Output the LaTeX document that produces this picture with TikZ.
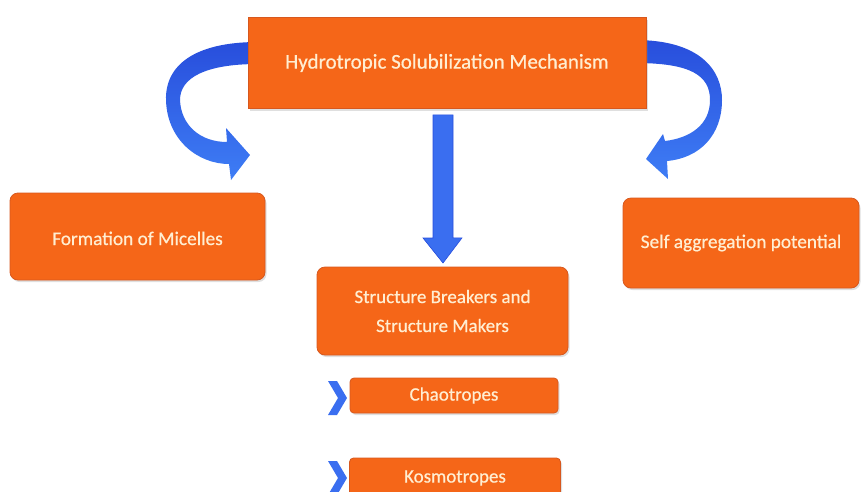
\documentclass[tikz,border=0pt]{standalone}
\usepackage{fontspec}
\setmainfont{Carlito}[RawFeature={embolden=0.6}]
\usetikzlibrary{shadows,calc}
\definecolor{boxor}{RGB}{245,102,24}
\definecolor{boxedge}{RGB}{215,88,30}
\definecolor{txtc}{RGB}{255,238,210}
\definecolor{bluedark}{RGB}{40,78,220}
\definecolor{bluelight}{RGB}{62,125,245}
\definecolor{bluemid}{RGB}{58,110,240}
\tikzset{
  obox/.style={fill=boxor, draw=boxedge, line width=0.8pt, text=txtc, align=center,
    inner sep=0pt, drop shadow={opacity=0.25, shadow xshift=1.5pt, shadow yshift=-2pt}},
  rbox/.style={obox, rounded corners=8pt},
  sbox/.style={obox, rounded corners=4pt},
  barrow/.style={top color=bluedark, bottom color=bluelight, draw=none},
  chev/.style={fill=bluemid, draw=none},
}
\begin{document}
\begin{tikzpicture}[x=1pt,y=-1pt]
\useasboundingbox (0,0) rectangle (865,491);
% curved arrows (behind top box)
\path[barrow] (258,42) .. controls (195,42) and (165,65) .. (166,100)
  .. controls (167,140) and (198,164) .. (229,164) -- (231,180) -- (250,155)
  -- (226,128) -- (227,142) .. controls (200,142) and (181,125) .. (180,100)
  .. controls (180,78) and (205,64) .. (258,64) -- cycle;
\path[barrow] (635,40) .. controls (700,40) and (722,70) .. (722,100)
  .. controls (722,135) and (700,158) .. (667,161) -- (668,179) -- (646,159)
  -- (663,134) -- (665,141) .. controls (690,138) and (710,125) .. (710,100)
  .. controls (710,75) and (690,63) .. (635,63) -- cycle;
% nodes
\node[obox, minimum width=398pt, minimum height=91pt, font=\fontsize{21}{24}\selectfont]
  (top) at (447,63) {Hydrotropic Solubilization Mechanism};
\node[rbox, minimum width=255pt, minimum height=87pt, font=\fontsize{19.3}{22}\selectfont,
  text height=17pt, text depth=-1pt]
  (left) at (137.5,236.5) {Formation of Micelles};
\node[rbox, minimum width=236pt, minimum height=90pt, font=\fontsize{19.3}{22}\selectfont]
  (right) at (741,243) {Self aggregation potential};
\node[rbox, minimum width=251pt, minimum height=88pt, font=\fontsize{19}{29}\selectfont]
  (mid) at (442.5,311) {Structure Breakers and\\Structure Makers};
\node[sbox, minimum width=208pt, minimum height=35pt, font=\fontsize{19}{21}\selectfont]
  (chao) at (454,395.5) {Chaotropes};
\node[sbox, minimum width=211pt, minimum height=40pt, font=\fontsize{19}{21}\selectfont]
  (kosmo) at (455,478) {Kosmotropes};
% down arrow
\path[fill=bluemid, draw=bluedark, line width=0.6pt]
  ($(top.south)+(-14,6)$) coordinate (d1) -- ++(20,0) -- ++(0,123) -- ++(9,0)
  -- (443,263) -- (423,238) -- (433,238) -- cycle;
% chevrons
\path[chev] (328,381) -- (337,381) -- (347,398) -- (337,415) -- (328,415) -- (338,398) -- cycle;
\path[chev] (328,461) -- (337,461) -- (347,478) -- (337,495) -- (328,495) -- (338,478) -- cycle;
\end{tikzpicture}
\end{document}
